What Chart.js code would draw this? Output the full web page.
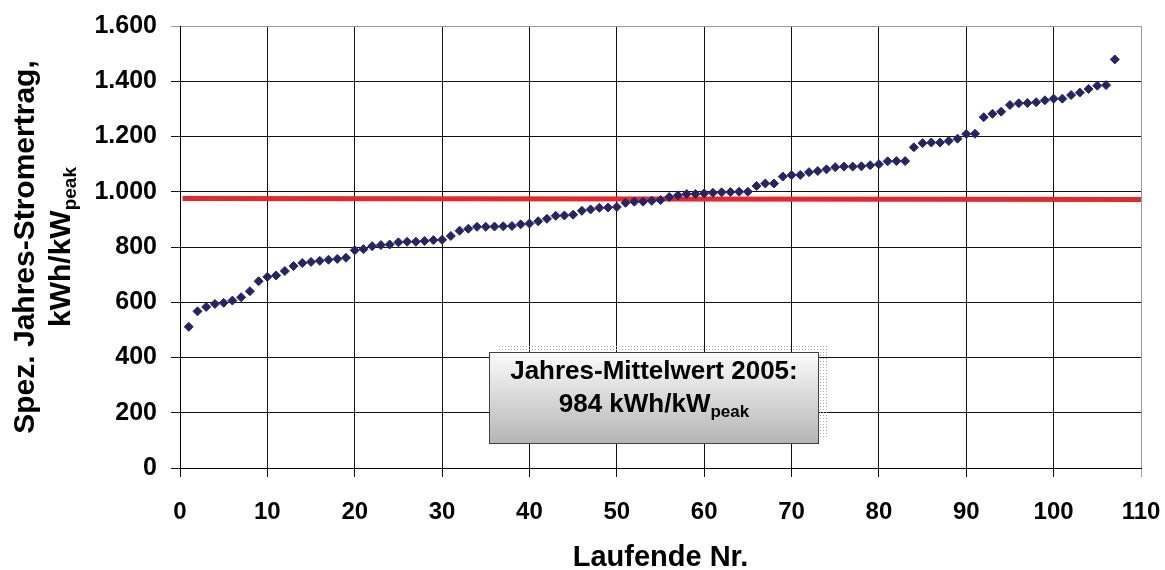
<!DOCTYPE html>
<html lang="de">
<head>
<meta charset="utf-8">
<title>Spez. Jahres-Stromertrag 2005</title>
<script src="https://cdn.jsdelivr.net/npm/chart.js@4.4.0/dist/chart.umd.min.js"></script>
<style>
  html, body { margin: 0; padding: 0; background: #fff; }
  #wrap { width: 1165px; height: 570px; }
</style>
</head>
<body>
<div id="wrap"><canvas id="diagramm" width="1165" height="570"></canvas></div>
<script>
// Spezifischer Jahres-Stromertrag je Anlage (kWh/kWpeak), sortiert
const ertrag = [
  511, 567, 583, 594, 598, 606, 618, 640, 676, 692,
  697, 713, 731, 742, 746, 750, 754, 757, 761, 788,
  792, 803, 807, 809, 817, 819, 819, 822, 825, 826,
  840, 859, 866, 873, 873, 874, 875, 876, 882, 885,
  893, 902, 913, 914, 917, 931, 936, 942, 943, 945,
  960, 964, 964, 967, 970, 981, 987, 992, 992, 994,
  996, 998, 999, 1000, 1000, 1021, 1030, 1030, 1055, 1060,
  1061, 1071, 1075, 1081, 1089, 1091, 1091, 1092, 1096, 1100,
  1110, 1111, 1111, 1161, 1176, 1178, 1178, 1184, 1192, 1209,
  1210, 1270, 1282, 1290, 1314, 1320, 1321, 1324, 1331, 1337,
  1337, 1350, 1359, 1372, 1384, 1386, 1479
];

// rote Mittelwert-Linie (Anfang / Ende)
const mittelX = [0.3, 110];
const mittelY = [976, 972];

const xTitel = 'Laufende Nr.';
const yTitel = ['Spez. Jahres-Stromertrag,', 'kWh/kW', 'peak'];
const boxText = ['Jahres-Mittelwert 2005:', '984 kWh/kW', 'peak'];

const FONT = '"Liberation Sans", Arial, sans-serif';

function tausender(v) {
  return String(v).replace(/\B(?=(\d{3})+(?!\d))/g, '.');
}

const punkte = ertrag.map((v, i) => ({ x: i + 1, y: v }));
const mittel = mittelX.map((x, i) => ({ x: x, y: mittelY[i] }));

// Achsentitel und Textkasten selbst zeichnen (wegen Tiefstellung "peak")
const beschriftung = {
  id: 'beschriftung',
  afterDraw(chart) {
    const { ctx, chartArea, scales } = chart;
    ctx.save();
    ctx.fillStyle = '#000';
    ctx.textBaseline = 'alphabetic';

    // x-Titel
    ctx.font = 'bold 29px ' + FONT;
    ctx.textAlign = 'center';
    ctx.fillText(xTitel, (chartArea.left + chartArea.right) / 2, 566);

    // y-Titel, zweizeilig und gedreht
    const cy = (chartArea.top + chartArea.bottom) / 2;
    ctx.save();
    ctx.translate(34, cy);
    ctx.rotate(-Math.PI / 2);
    ctx.font = 'bold 30px ' + FONT;
    ctx.fillText(yTitel[0], 0, 0);
    ctx.textAlign = 'left';
    const w1 = ctx.measureText(yTitel[1]).width;
    ctx.font = 'bold 19px ' + FONT;
    const w2 = ctx.measureText(yTitel[2]).width;
    const start = -(w1 + w2) / 2;
    ctx.font = 'bold 30px ' + FONT;
    ctx.fillText(yTitel[1], start, 36);
    ctx.font = 'bold 19px ' + FONT;
    ctx.fillText(yTitel[2], start + w1, 42);
    ctx.restore();

    // Textkasten mit gepunktetem Schatten
    const l = scales.x.getPixelForValue(35.4);
    const r = scales.x.getPixelForValue(73.1);
    const t = scales.y.getPixelForValue(419);
    const b = scales.y.getPixelForValue(89);
    ctx.fillStyle = '#a8a8a8';
    for (let px = l + 10; px < r + 10; px += 3) {
      for (let py = t - 6; py < b - 6; py += 3) {
        ctx.fillRect(Math.round(px), Math.round(py), 1, 1);
      }
    }
    const grad = ctx.createLinearGradient(0, t, 0, b);
    grad.addColorStop(0, '#fbfbfb');
    grad.addColorStop(1, '#b5b5b5');
    ctx.fillStyle = grad;
    ctx.fillRect(l, t, r - l, b - t);
    ctx.strokeStyle = '#404040';
    ctx.lineWidth = 1;
    ctx.strokeRect(Math.round(l) + 0.5, Math.round(t) + 0.5, Math.round(r - l), Math.round(b - t));

    const mx = (l + r) / 2;
    ctx.fillStyle = '#000';
    ctx.textAlign = 'center';
    ctx.font = 'bold 26px ' + FONT;
    ctx.fillText(boxText[0], mx, t + 27);
    ctx.textAlign = 'left';
    const b1 = ctx.measureText(boxText[1]).width;
    ctx.font = 'bold 17px ' + FONT;
    const b2 = ctx.measureText(boxText[2]).width;
    const bs = mx - (b1 + b2) / 2;
    ctx.font = 'bold 26px ' + FONT;
    ctx.fillText(boxText[1], bs, t + 60);
    ctx.font = 'bold 17px ' + FONT;
    ctx.fillText(boxText[2], bs + b1, t + 65);

    ctx.restore();
  }
};

new Chart(document.getElementById('diagramm'), {
  type: 'scatter',
  data: {
    datasets: [
      {
        label: 'Anlagen',
        data: punkte,
        pointStyle: 'rectRot',
        pointRadius: 4.5,
        backgroundColor: '#262469',
        borderColor: '#262469',
        borderWidth: 1
      },
      {
        label: 'Mittelwert',
        data: mittel,
        showLine: true,
        pointRadius: 0,
        borderColor: '#e8262b',
        borderWidth: 5
      }
    ]
  },
  options: {
    responsive: false,
    animation: false,
    layout: { padding: { top: 26, right: 24, left: 0, bottom: 0 } },
    plugins: { legend: { display: false }, tooltip: { enabled: false } },
    scales: {
      x: {
        type: 'linear',
        min: 0,
        max: 110,
        ticks: {
          stepSize: 10,
          padding: 21,
          maxRotation: 0,
          color: '#000',
          font: { family: FONT, size: 24, weight: 'bold' }
        },
        grid: {
          color: c => (c.tick && c.tick.value === 110 ? '#9a9a9a' : '#111'),
          lineWidth: 1,
          tickLength: 9
        },
        border: { color: '#000', width: 1 },
        afterFit(s) {
          s.height = 102;
          s.paddingLeft = 0;
          s.paddingRight = 0;
        }
      },
      y: {
        min: 0,
        max: 1600,
        ticks: {
          stepSize: 200,
          padding: 14,
          color: '#000',
          font: { family: FONT, size: 25, weight: 'bold' },
          callback: v => tausender(v)
        },
        grid: {
          color: c => (c.tick && c.tick.value === 1600 ? '#9a9a9a' : '#111'),
          lineWidth: 1,
          tickLength: 9
        },
        border: { color: '#000', width: 1 },
        afterFit(s) {
          s.width = 180;
          s.paddingTop = 0;
          s.paddingBottom = 0;
        }
      }
    }
  },
  plugins: [beschriftung]
});
</script>
</body>
</html>
